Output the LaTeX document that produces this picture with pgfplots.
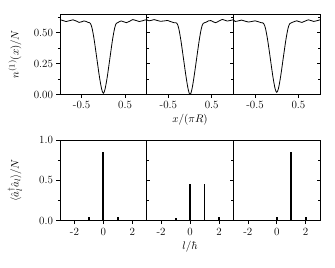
\documentclass[border=0pt]{standalone}
\usepackage{pgfplots}
\pgfplotsset{compat=1.18}
\begin{document}
\begin{tikzpicture}
\path[use as bounding box] (0pt,0pt) rectangle (335pt,268pt);
\pgfplotsset{
  panel/.style={scale only axis, width=86.7pt, height=80.5pt, anchor=south west,
    axis line style={line width=0.7pt},
    every tick/.style={black, line width=0.6pt},
    major tick length=3.5pt, minor tick length=2pt,
    tick label style={font=\fontsize{11}{13}\selectfont},
    label style={font=\fontsize{11}{13}\selectfont},
    xtick pos=bottom, xtick align=outside,
    xlabel style={at={(axis description cs:0.5,-0.32)}, anchor=center},
    ylabel style={at={(axis description cs:-0.52,0.5)}, anchor=center}},
  toprow/.style={panel, xmin=-1, xmax=1, ymin=0, ymax=0.65,
    xtick={-0.5,0.5}, xticklabels={-0.5,0.5},
    ytick={0,0.25,0.5}, minor ytick={0.125,0.375,0.625}},
  botrow/.style={panel, xmin=-3, xmax=3, ymin=0, ymax=1,
    xtick={-2,0,2}, xticklabels={-2,0,2},
    ytick={0,0.5,1}, minor ytick={0.25,0.75}},
  firstp/.style={ytick pos=left, ytick align=outside},
  midp/.style={ytick pos=both, ytick align=inside, yticklabels={}},
  lastp/.style={ytick pos=right, ytick align=inside, yticklabels={}},
  curve/.style={black, line width=0.8pt, smooth, mark=none},
  bars/.style={black, ycomb, line width=1.8pt, mark=none},
}
% ---------- top row ----------
\begin{axis}[toprow, firstp, at={(60pt,173.5pt)}, yticklabels={0.00,0.25,0.50},
  ylabel={$n^{(1)}(x)/N$}]
\addplot[curve] coordinates {
(-1.00,0.604)(-0.94,0.598)(-0.86,0.589)(-0.78,0.596)(-0.70,0.603)(-0.63,0.594)
(-0.56,0.582)(-0.50,0.587)(-0.45,0.594)(-0.40,0.590)(-0.35,0.582)(-0.32,0.580)
(-0.30,0.574)(-0.28,0.560)(-0.26,0.535)(-0.24,0.500)(-0.22,0.460)(-0.20,0.415)
(-0.18,0.365)(-0.16,0.315)(-0.14,0.265)(-0.12,0.215)(-0.10,0.165)(-0.08,0.120)
(-0.06,0.080)(-0.04,0.045)(-0.02,0.020)(0.00,0.010)
(0.02,0.020)(0.04,0.045)(0.06,0.080)(0.08,0.120)(0.10,0.165)(0.12,0.215)
(0.14,0.265)(0.16,0.315)(0.18,0.365)(0.20,0.415)(0.22,0.460)(0.24,0.500)
(0.26,0.535)(0.28,0.560)(0.30,0.575)(0.33,0.580)(0.37,0.588)(0.41,0.594)
(0.47,0.587)(0.53,0.580)(0.60,0.590)(0.68,0.605)(0.76,0.597)(0.83,0.589)
(0.90,0.595)(0.96,0.602)(1.00,0.603)};
\end{axis}
\begin{axis}[toprow, midp, at={(146.7pt,173.5pt)}, xlabel={$x/(\pi R)$}]
\addplot[curve] coordinates {
(-1.00,0.604)(-0.95,0.595)(-0.89,0.599)(-0.83,0.605)(-0.76,0.598)(-0.68,0.591)
(-0.60,0.594)(-0.52,0.598)(-0.45,0.589)(-0.37,0.580)(-0.32,0.579)
(-0.30,0.573)(-0.28,0.558)(-0.26,0.532)(-0.24,0.497)(-0.22,0.456)(-0.20,0.411)
(-0.18,0.361)(-0.16,0.311)(-0.14,0.261)(-0.12,0.211)(-0.10,0.162)(-0.08,0.116)
(-0.06,0.073)(-0.04,0.037)(-0.02,0.011)(0.00,0.000)
(0.02,0.011)(0.04,0.037)(0.06,0.073)(0.08,0.116)(0.10,0.162)(0.12,0.211)
(0.14,0.261)(0.16,0.311)(0.18,0.361)(0.20,0.411)(0.22,0.456)(0.24,0.497)
(0.26,0.532)(0.28,0.558)(0.30,0.573)(0.33,0.579)(0.37,0.584)(0.43,0.595)
(0.48,0.597)(0.54,0.586)(0.59,0.580)(0.66,0.592)(0.745,0.606)(0.80,0.600)
(0.86,0.593)(0.93,0.598)(1.00,0.604)};
\end{axis}
\begin{axis}[toprow, lastp, at={(233.4pt,173.5pt)}]
\addplot[curve] coordinates {
(-1.00,0.603)(-0.96,0.590)(-0.88,0.595)(-0.81,0.601)(-0.73,0.592)(-0.65,0.585)
(-0.57,0.590)(-0.50,0.595)(-0.43,0.588)(-0.36,0.580)(-0.32,0.578)
(-0.30,0.572)(-0.28,0.558)(-0.26,0.534)(-0.24,0.500)(-0.22,0.461)(-0.20,0.417)
(-0.18,0.369)(-0.16,0.320)(-0.14,0.270)(-0.12,0.219)(-0.10,0.170)(-0.08,0.125)
(-0.06,0.085)(-0.04,0.050)(-0.02,0.027)(0.00,0.018)
(0.02,0.027)(0.04,0.050)(0.06,0.085)(0.08,0.125)(0.10,0.170)(0.12,0.219)
(0.14,0.270)(0.16,0.320)(0.18,0.369)(0.20,0.417)(0.22,0.461)(0.24,0.500)
(0.26,0.534)(0.28,0.558)(0.30,0.572)(0.33,0.578)(0.37,0.584)(0.46,0.595)
(0.52,0.588)(0.58,0.582)(0.65,0.592)(0.73,0.603)(0.79,0.597)(0.85,0.590)
(0.92,0.595)(1.00,0.603)};
\end{axis}
% ---------- bottom row ----------
\begin{axis}[botrow, firstp, at={(60pt,47.3pt)}, yticklabels={0.0,0.5,1.0},
  ylabel={$\langle\hat{a}_l^\dagger\hat{a}_l\rangle/N$}]
\addplot[bars] coordinates {(-2,0.01)(-1,0.05)(0,0.85)(1,0.05)(2,0.01)};
\end{axis}
\begin{axis}[botrow, midp, at={(146.7pt,47.3pt)}, xlabel={$l/\hbar$}]
\addplot[bars] coordinates {(-2,0.004)(-1,0.035)(0,0.45)(1,0.45)(2,0.04)};
\end{axis}
\begin{axis}[botrow, lastp, at={(233.4pt,47.3pt)}]
\addplot[bars] coordinates {(-1,0.01)(0,0.04)(1,0.85)(2,0.05)};
\end{axis}
\end{tikzpicture}
\end{document}
